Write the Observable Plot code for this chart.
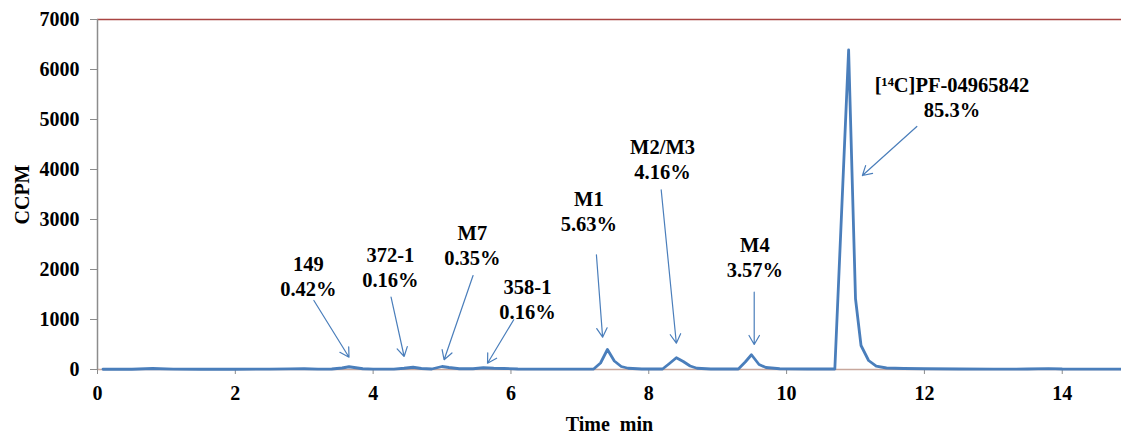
<!DOCTYPE html>
<html>
<head>
<meta charset="utf-8">
<script src="https://cdn.jsdelivr.net/npm/d3@7"></script>
<script src="https://cdn.jsdelivr.net/npm/@observablehq/plot@0.6"></script>
<style>
  html, body { margin: 0; padding: 0; background: #fff; }
</style>
</head>
<body>
<div id="chart"></div>
<script>
// Chromatogram samples (time in min, CCPM)
const times = [0.08, 0.5, 0.7, 0.8, 0.9, 1.1, 1.5, 2.0, 2.5, 2.8, 3.0, 3.2, 3.4, 3.55, 3.65, 3.75, 3.85, 4.0, 4.3, 4.45, 4.58, 4.7, 4.85, 5.0, 5.1, 5.25, 5.45, 5.6, 5.75, 5.9, 6.1, 6.5, 7.0, 7.2, 7.3, 7.4, 7.5, 7.6, 7.7, 7.9, 8.2, 8.3, 8.4, 8.5, 8.6, 8.7, 8.9, 9.3, 9.4, 9.49, 9.6, 9.7, 9.9, 10.3, 10.7, 10.9, 11.0, 11.08, 11.19, 11.3, 11.45, 11.7, 12.0, 12.5, 13.0, 13.5, 13.8, 14.0, 14.5, 14.9];
const ccpm  = [5, 5, 15, 20, 15, 8, 5, 5, 8, 12, 15, 8, 10, 30, 55, 35, 15, 8, 8, 25, 45, 20, 10, 60, 40, 15, 15, 35, 25, 20, 10, 8, 8, 10, 130, 400, 170, 60, 25, 10, 10, 120, 235, 160, 70, 25, 10, 10, 150, 295, 100, 40, 15, 10, 10, 6390, 1415, 480, 180, 66, 30, 20, 15, 10, 8, 10, 18, 10, 8, 8];

// Peak annotations
const peakLabels = ["149\n0.42%", "372-1\n0.16%", "M7\n0.35%", "358-1\n0.16%", "M1\n5.63%", "M2/M3\n4.16%", "M4\n3.57%", "[¹⁴C]PF-04965842\n85.3%"];
const labelX  = [3.06, 4.25, 5.44, 6.24, 7.13, 8.20, 9.54, 12.40];
const labelY  = [1880, 2060, 2500, 1420, 3180, 4220, 2260, 5470];
const arrowX1 = [3.14, 4.26, 5.45, 6.04, 7.24, 8.18, 9.53, 11.89];
const arrowY1 = [1380, 1446, 1880, 994, 2294, 3594, 1546, 4860];
const arrowX2 = [3.65, 4.45, 5.03, 5.66, 7.33, 8.40, 9.53, 11.10];
const arrowY2 = [246, 260, 194, 126, 646, 526, 500, 3880];

const yTicks = [0, 1000, 2000, 3000, 4000, 5000, 6000, 7000];
const xTicks = [0, 2, 4, 6, 8, 10, 12, 14];

const series = times.map((t, i) => ({t, v: ccpm[i]}));
const notes = peakLabels.map((label, i) => ({
  label, x: labelX[i], y: labelY[i],
  x1: arrowX1[i], y1: arrowY1[i], x2: arrowX2[i], y2: arrowY2[i]
}));

const blue = "#4a7ebb";
const fmt = d3.format("d");

const chart = Plot.plot({
  width: 1121,
  height: 434,
  marginLeft: 97,
  marginRight: 0,
  marginTop: 19,
  marginBottom: 65,
  style: {fontFamily: "'Liberation Serif', 'Times New Roman', serif", fontWeight: "bold", color: "#000", background: "#fff"},
  x: {domain: [0, 14.86]},
  y: {domain: [0, 7000]},
  marks: [
    Plot.ruleY([0], {stroke: "#c8a79c", strokeWidth: 1.5}),
    Plot.ruleY([7000], {stroke: "#a94442", strokeWidth: 1.5}),
    Plot.ruleX([0], {stroke: "#8c8c8c", strokeWidth: 1.5}),
    // y axis ticks
    Plot.axisY({ticks: yTicks, tickSize: 7, tickFormat: () => "", stroke: "#8c8c8c", label: null}),
    // y axis labels
    Plot.axisY({ticks: yTicks, tickSize: 0, tickPadding: 18, tickFormat: fmt, fontSize: 20, label: "CCPM", labelAnchor: "center", labelArrow: "none", labelOffset: 83, fill: "#000"}),
    // x axis ticks
    Plot.axisX({ticks: xTicks, tickSize: 5, tickFormat: () => "", stroke: "#8c8c8c", label: null}),
    Plot.axisX({ticks: xTicks, tickSize: 0, tickPadding: 16, tickFormat: fmt, fontSize: 20, label: "Time  min", labelAnchor: "center", labelArrow: "none", labelOffset: 61, fill: "#000"}),
    Plot.line(series, {x: "t", y: "v", stroke: blue, strokeWidth: 2.8, strokeLinejoin: "round"}),
    Plot.arrow(notes, {x1: "x1", y1: "y1", x2: "x2", y2: "y2", stroke: blue, strokeWidth: 1.2, headLength: 13, headAngle: 60}),
    Plot.text(notes, {x: "x", y: "y", text: "label", fontSize: 20.5, fontWeight: "bold", lineHeight: 1.22, fill: "#000", textAnchor: "middle"})
  ]
});
document.getElementById("chart").appendChild(chart);
</script>
</body>
</html>
